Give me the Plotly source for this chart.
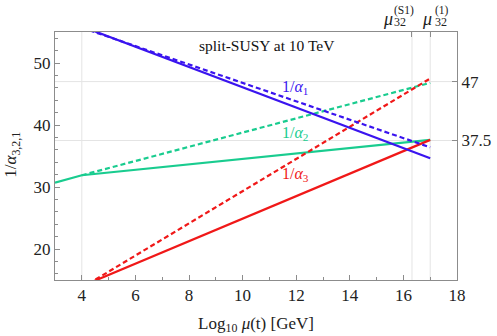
import plotly.graph_objects as go

# log10(mu/GeV) abscissae and 1/alpha values
x_a1 = [4, 17]
a1_solid = [55.9, 34.65]
a1_dash = [55.7, 36.4]

x_a2_solid = [3, 4, 17]
a2_solid = [30.7, 31.9, 37.6]
x_a2_dash = [4, 17]
a2_dash = [31.9, 46.8]

x_a3 = [4, 17]
a3_solid = [14.0, 37.6]
a3_dash = [13.75, 47.5]

right_ticks = [37.5, 47]
right_labels = ["37.5", "47"]
top_ticks = [16.32, 17.0]
top_sups = ["(S1)", "(1)"]

BLUE = "#3a14ef"
GREEN = "#19cc8f"
RED = "#f01818"
FONT = "Liberation Serif"
TXT = "#222"

fig = go.Figure()
lw = 2.2
fig.add_trace(go.Scatter(x=x_a2_solid, y=a2_solid, mode="lines", line=dict(color=GREEN, width=lw)))
fig.add_trace(go.Scatter(x=x_a2_dash, y=a2_dash, mode="lines", line=dict(color=GREEN, width=lw, dash="5px,3px")))
fig.add_trace(go.Scatter(x=x_a3, y=a3_solid, mode="lines", line=dict(color=RED, width=lw)))
fig.add_trace(go.Scatter(x=x_a3, y=a3_dash, mode="lines", line=dict(color=RED, width=lw, dash="5px,3px")))
fig.add_trace(go.Scatter(x=x_a1, y=a1_solid, mode="lines", line=dict(color=BLUE, width=lw)))
fig.add_trace(go.Scatter(x=x_a1, y=a1_dash, mode="lines", line=dict(color=BLUE, width=lw, dash="5px,3px")))
# invisible trace to activate secondary axes
fig.add_trace(go.Scatter(x=[3, 18], y=[15, 55], mode="lines", line=dict(width=0), xaxis="x2", yaxis="y2",
                         hoverinfo="skip", opacity=0))

axcol = "#8c8c8c"
gridcol = "#e4e4e4"
TF = 17
fig.update_layout(
    width=497, height=336,
    margin=dict(l=55, r=40, t=32, b=56, autoexpand=False),
    paper_bgcolor="white", plot_bgcolor="white",
    showlegend=False,
    font=dict(family=FONT, size=TF, color=TXT),
    xaxis=dict(range=[3, 18], tickvals=[4, 6, 8, 10, 12, 14, 16, 18], automargin=False,
               ticks="inside", ticklen=5, tickcolor=axcol, tickwidth=1,
               minor=dict(tickvals=[3, 5, 7, 9, 11, 13, 15, 17], ticks="inside", ticklen=3, tickcolor=axcol,
                          showgrid=False),
               showline=True, linecolor=axcol, linewidth=1,
               showgrid=False, zeroline=False,
               tickfont=dict(size=TF, family=FONT, color=TXT),
               title=dict(text="Log<sub>10</sub> <i>μ</i>(t) [GeV]", font=dict(size=TF, family=FONT, color=TXT),
                          standoff=12)),
    yaxis=dict(range=[15, 55], tickvals=[20, 30, 40, 50], automargin=False,
               ticks="inside", ticklen=5, tickcolor=axcol,
               minor=dict(tickvals=[16, 18, 22, 24, 26, 28, 32, 34, 36, 38, 42, 44, 46, 48, 52, 54],
                          ticks="inside", ticklen=3, tickcolor=axcol, showgrid=False),
               showline=True, linecolor=axcol, linewidth=1,
               showgrid=False, zeroline=False,
               tickfont=dict(size=TF, family=FONT, color=TXT)),
    xaxis2=dict(range=[3, 18], overlaying="x", side="top", tickvals=top_ticks, showticklabels=False,
                automargin=False,
                ticks="inside", ticklen=5, tickcolor=axcol, showline=True, linecolor=axcol,
                showgrid=False, zeroline=False),
    yaxis2=dict(range=[15, 55], overlaying="y", side="right", tickvals=right_ticks, ticktext=right_labels,
                automargin=False,
                ticks="inside", ticklen=5, tickcolor=axcol, showline=True, linecolor=axcol,
                showgrid=False, zeroline=False, tickfont=dict(size=TF, family=FONT, color=TXT)),
)

# gridlines
shapes = []
for xv in [4] + top_ticks:
    shapes.append(dict(type="line", xref="x", yref="paper", x0=xv, x1=xv, y0=0, y1=1,
                       line=dict(color=gridcol, width=1), layer="below"))
for yv in right_ticks:
    shapes.append(dict(type="line", xref="paper", yref="y", x0=0, x1=1, y0=yv, y1=yv,
                       line=dict(color=gridcol, width=1), layer="below"))
fig.update_layout(shapes=shapes)

ann = []
ann.append(dict(x=0.527, y=0.945, xref="paper", yref="paper", text="split-SUSY at 10 TeV", showarrow=False,
                xanchor="center", yanchor="middle",
                font=dict(size=15.5, family=FONT, color="#111")))
ann.append(dict(x=-0.107, y=35.2, xref="paper", yref="y", text="1/<i>α</i><sub>3,2,1</sub>", showarrow=False,
                textangle=-90, xanchor="center", yanchor="middle",
                font=dict(size=TF, family=FONT, color=TXT)))
ann.append(dict(x=11.96, y=46.0, text="1/<i>α</i><sub>1</sub>", showarrow=False,
                font=dict(size=16, family=FONT, color=BLUE)))
ann.append(dict(x=11.96, y=38.7, text="1/<i>α</i><sub>2</sub>", showarrow=False,
                font=dict(size=16, family=FONT, color=GREEN)))
ann.append(dict(x=11.96, y=32.0, text="1/<i>α</i><sub>3</sub>", showarrow=False,
                font=dict(size=16, family=FONT, color=RED)))
# (mu shift, sup left edge shift, sub left edge shift)
shifts = [(-24, -20, -20), (-3, 3, 3)]
for xv, sup, (sm, ss, sb) in zip(top_ticks, top_sups, shifts):
    ann.append(dict(x=xv, y=1.0, xref="x", yref="paper", text="<i>μ</i>", showarrow=False,
                    xanchor="center", yanchor="middle", yshift=13, xshift=sm,
                    font=dict(size=18, family=FONT, color=TXT)))
    ann.append(dict(x=xv, y=1.0, xref="x", yref="paper", text=sup, showarrow=False,
                    xanchor="left", yanchor="middle", yshift=22, xshift=ss,
                    font=dict(size=11.5, family=FONT, color=TXT)))
    ann.append(dict(x=xv, y=1.0, xref="x", yref="paper", text="32", showarrow=False,
                    xanchor="left", yanchor="middle", yshift=10, xshift=sb,
                    font=dict(size=12, family=FONT, color=TXT)))
fig.update_layout(annotations=ann)

fig.write_html("out.html", config={"displayModeBar": False},
               post_script="document.body.style.margin='0';")
